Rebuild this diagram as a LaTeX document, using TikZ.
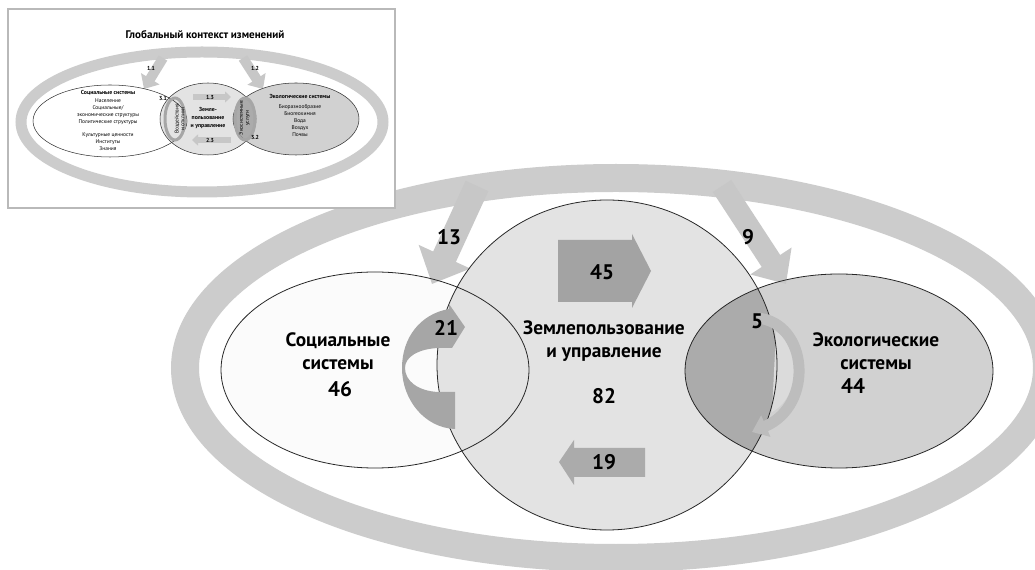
\documentclass[tikz,border=0pt]{standalone}
\usepackage{fontspec}
\setmainfont{PT Sans}
\usetikzlibrary{arrows.meta}
\definecolor{ringgray}{gray}{0.80}
\definecolor{socfill}{gray}{0.985}
\definecolor{landfill}{gray}{0.89}
\definecolor{ecofill}{gray}{0.82}
\definecolor{bothfill}{gray}{0.67}
\definecolor{flowlight}{gray}{0.78}
\definecolor{flowdark}{gray}{0.64}
\definecolor{loopgray}{gray}{0.65}
\definecolor{loopright}{gray}{0.74}
\definecolor{loopinner}{gray}{0.86}

\begin{document}
\begin{tikzpicture}[x=0.02cm,y=-0.02cm,
  bigtext/.style={font=\bfseries\fontsize{11}{13}\selectfont,align=center,inner sep=0pt},
  bignum/.style={font=\bfseries\fontsize{12}{14}\selectfont,inner sep=0pt},
  smalltext/.style={font=\fontsize{3.1}{4}\selectfont,align=center,inner sep=0pt},
  smallhead/.style={font=\bfseries\fontsize{3.3}{4.3}\selectfont,align=center,inner sep=0pt},
  border/.style={draw=black!85,line width=0.45pt},
  smallborder/.style={draw=black!80,line width=0.3pt}]
  \useasboundingbox (0,0) rectangle (1035,570);
  \clip (0,0) rectangle (1035,570);
  \fill[white] (0,0) rectangle (1035,570);

  \coordinate (ring) at (616,368);
  \coordinate (soc) at (375,370);
  \coordinate (land) at (607,365);
  \coordinate (eco) at (839,371);

  % global context
  \draw[ringgray,line width=0.56cm] (ring) ellipse (431 and 190);

  \fill[socfill] (soc) ellipse (154 and 98);
  \fill[landfill] (land) ellipse (170 and 165);
  \fill[ecofill] (eco) ellipse (154 and 97);
  \begin{scope}
    \clip (land) ellipse (170 and 165);
    \fill[bothfill] (eco) ellipse (154 and 97);
  \end{scope}
  \fill[loopinner] (776,332) .. controls (801,342) and (802,396) .. (772,412) -- cycle;

  \coordinate (g1) at (477,186);
  \coordinate (g1end) at (432,284);
  \coordinate (g2) at (722,186);
  \coordinate (g2end) at (786,284);
  \draw[flowlight,line width=0.5cm,-{Triangle[width=1.1cm,length=0.6cm]}] (g1) -- (g1end);
  \draw[flowlight,line width=0.44cm,-{Triangle[width=0.95cm,length=0.55cm]}] (g2) -- (g2end);

  \draw[border] (soc) ellipse (154 and 98);
  \draw[border] (land) ellipse (170 and 165);
  \draw[border] (eco) ellipse (154 and 97);

  % flows inside land use
  \fill[flowdark] (558,240) -- (632,240) -- (632,234) -- (651,271) -- (632,308) -- (632,302) -- (558,302) -- cycle;
  \fill[bothfill] (645,448) -- (574,448) -- (574,440) -- (559,462) -- (574,485) -- (574,477) -- (645,477) -- cycle;

  % loops
  \fill[loopgray] (449,304) -- (465,327) -- (452,348) -- (438,348)
    .. controls (418,349) and (405,357) .. (405,368)
    .. controls (405,381) and (418,391) .. (438,392)
    -- (455,392) -- (455,429)
    .. controls (425,428) and (402,400) .. (402,368)
    .. controls (402,338) and (420,314) .. (449,309) -- cycle;
  \draw[loopright,line width=0.22cm,-{Triangle[width=0.45cm,length=0.3cm]}]
    (757,318) .. controls (808,322) and (815,405) .. (752,432);

  \node[bigtext] (soctext) at (338,351) {Социальные\\системы};
  \node[bignum] (socnum) at (340,389) {46};
  \node[bigtext] (landtext) at (604,341) {Землепользование\\и управление};
  \node[bignum] (landnum) at (604,396) {82};
  \node[bigtext] (ecotext) at (876,351) {Экологические\\системы};
  \node[bignum] (econum) at (853,386) {44};
  \node[bignum] (n13) at (449,237) {13};
  \node[bignum] (n9) at (748,237) {9};
  \node[bignum] (n45) at (602,272) {45};
  \node[bignum] (n19) at (604,462) {19};
  \node[bignum] (n21) at (446,328) {21};
  \node[bignum] (n5) at (757,321) {5};

  % small copy of the full scheme
  \draw[gray!55,fill=white,line width=0.6pt] (8,9) rectangle (395,208);
  \coordinate (sring) at (202,122);
  \coordinate (ssoc) at (110,121);
  \coordinate (sland) at (208,119);
  \coordinate (seco) at (296,119);
  \draw[ringgray,line width=0.22cm] (sring) ellipse (181 and 70);
  \draw[flowlight,line width=0.2cm,-{Triangle[width=0.42cm,length=0.24cm]}] (163,58) -- (144,89);
  \draw[flowlight,line width=0.2cm,-{Triangle[width=0.42cm,length=0.24cm]}] (243,58) -- (263,89);
  \fill[white] (ssoc) ellipse (77 and 36);
  \fill[landfill] (sland) ellipse (48 and 36);
  \fill[ecofill] (seco) ellipse (63 and 36);
  \begin{scope}
    \clip (sland) ellipse (48 and 36);
    \fill[bothfill] (seco) ellipse (63 and 36);
  \end{scope}
  \draw[smallborder] (ssoc) ellipse (77 and 36);
  \draw[smallborder] (sland) ellipse (48 and 36);
  \draw[smallborder] (seco) ellipse (63 and 36);
  \draw[loopgray,line width=0.06cm] (175,119) ellipse (10 and 21);
  \draw[loopgray,line width=0.06cm] (245,119) ellipse (10 and 21);
  \draw[flowlight,line width=0.12cm,-{Triangle[width=0.22cm,length=0.12cm]}] (193,97) -- (231,97);
  \draw[flowlight,line width=0.12cm,-{Triangle[width=0.22cm,length=0.12cm]}] (231,140) -- (192,140);

  \node[smallhead] (stitle) at (205,35) {\fontsize{6.3}{7}\selectfont Глобальный контекст изменений};
  \node[smallhead] (ssochead) at (108,93) {Социальные системы};
  \node[smalltext] (ssoclist) at (108,111.5) {Население\\Социальные/\\экономические структуры\\Политические структуры};
  \node[smalltext] (ssoclist2) at (108,142) {Культурные ценности\\Институты\\Знания};
  \node[smallhead] (slandtext) at (208,118) {Земле-\\пользование\\и управление};
  \node[smallhead] (secohead) at (300,96) {Экологические системы};
  \node[smalltext] (secolist) at (300,121) {Биоразнообразие\\Биогеохимия\\Вода\\Воздух\\Почвы};
  \node[smalltext,rotate=90] (sleft1) at (177,119) {Воздействия};
  \node[smalltext,rotate=90] (sleft2) at (183,119) {и отклики};
  \node[smalltext,rotate=90] (sright1) at (241,118) {Экосистемные};
  \node[smalltext,rotate=90] (sright2) at (248,118) {услуги};
  \node[smallhead] (s11) at (151,68) {1.1};
  \node[smallhead] (s12) at (255,68) {1.2};
  \node[smallhead] (s13) at (210,97) {1.3};
  \node[smallhead] (s23) at (210,140) {2.3};
  \node[smallhead] (s31) at (163,98) {3.1};
  \node[smallhead] (s32) at (255,137) {3.2};
\end{tikzpicture}
\end{document}
